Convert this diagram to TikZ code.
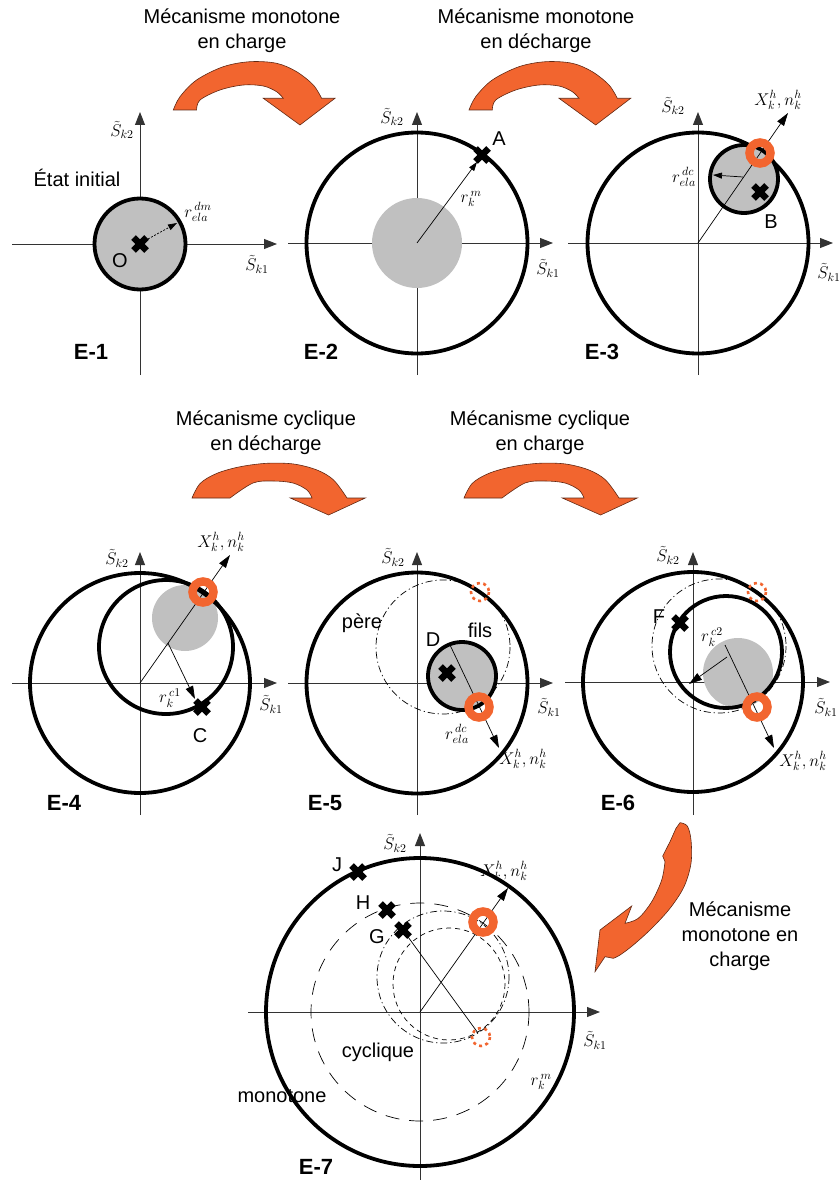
\RequirePackage{fix-cm}
\documentclass[tikz,border=0pt]{standalone}
\usepackage{fontspec}
\setsansfont{Liberation Sans}
\usetikzlibrary{arrows.meta}
\definecolor{org}{HTML}{F2652F}
\definecolor{gfill}{HTML}{C0C0C0}
\definecolor{axc}{HTML}{333333}
\tikzset{
 bentarrow/.pic={
  \filldraw[fill=org,draw=black!60!org,line width=0.6pt]
   plot[smooth,tension=0.55] coordinates {(0,0) (6.7,-13.3) (23.3,-30) (50,-43.3) (76.7,-48.3) (103.3,-46.7) (123.3,-38.3) (140,-25) (148.3,-11.7)}
   -- (161.7,-11.7) -- (126.7,15) -- (90,-11.7) -- (110,-11.7)
   -- plot[smooth,tension=0.55] coordinates {(110,-11.7) (103.3,-18.3) (90,-24) (70,-25) (46.7,-20) (26.7,-10) (23.3,0)} -- cycle;
 },
 flatarrow/.pic={
  \filldraw[fill=org,draw=black!60!org,line width=0.6pt]
   plot[smooth,tension=0.55] coordinates {(0,0) (8.3,-14.7) (25,-24.7) (48.3,-31.3) (75,-34.7) (101.6,-34) (125,-28) (141.6,-18) (155,0)}
   -- (173.3,0) -- (136.6,17) -- (98.3,0) -- (120,0)
   -- plot[smooth,tension=0.55] coordinates {(120,0) (115,-8) (101,-15) (81,-17) (61,-15) (38,0)} -- cycle;
 },
 xmark/.pic={\draw[line width=6.5pt] (-6.5,-6.5)--(6.5,6.5) (-6.5,6.5)--(6.5,-6.5);}
}
\begin{document}
\begin{tikzpicture}[x=1pt,y=-1pt,
 ax/.style={draw=axc,line width=0.9pt,-{Triangle[length=13pt,width=10pt]}},
 axl/.style={draw=axc,line width=0.9pt},
 thk/.style={line width=3.8pt},
 rad/.style={line width=0.7pt,-{Triangle[length=9pt,width=6pt]}},
 radb/.style={line width=0.7pt,-{Triangle[length=13pt,width=8pt]}},
 ring/.style={draw=org,line width=8.5pt},
 dring/.style={draw=org,line width=2.6pt,dash pattern=on 3pt off 3.5pt},
 dd/.style={line width=0.7pt,dash pattern=on 7pt off 3pt on 1.2pt off 3pt},
 sf/.style={font=\sffamily\fontsize{20}{25}\selectfont,align=center,inner sep=0pt},
 elab/.style={font=\sffamily\bfseries\fontsize{22}{26}\selectfont,inner sep=0pt},
 ml/.style={font=\fontsize{17}{20}\selectfont,inner sep=0pt},
 gfl/.style={fill=gfill}
]
\useasboundingbox (0,0) rectangle (839,1180);

% ---------- headings and big arrows, row 1
\node[sf] (t1) at (242,30.5) {Mécanisme monotone\\en charge};
\node[sf] (t2) at (536,30.5) {Mécanisme monotone\\en décharge};
\pic at (173.3,110) {bentarrow};
\pic at (469,110) {bentarrow};

% ---------- E-1
\coordinate (o1) at (140,244);
\draw[axl] (140,375) -- (o1);
\draw[ax] (o1) -- (140,112);
\draw[ax] (12,244) -- (277,244);
\draw[gfl,thk] (o1) circle (45.5);
\pic at (o1) {xmark};
\coordinate (e1) at (177,223);
\draw[rad,dash pattern=on 2pt off 1.5pt] (148,239) -- (e1);
\node[ml] (s12) at (122,130) {$\tilde S_{k2}$};
\node[ml] (s11) at (257,264) {$\tilde S_{k1}$};
\node[ml] (r1) at (198,212) {$r^{\,dm}_{ela}$};
\node[sf] (O) at (120,261) {O};
\node[sf] (init) at (77,178) {État initial};
\node[elab] (E1) at (91,352) {E-1};

% ---------- E-2
\coordinate (o2) at (417,243);
\draw[axl] (417,375) -- (o2);
\draw[ax] (o2) -- (417,112);
\draw[ax] (288,243) -- (553,243);
\fill[gfill] (o2) circle (45);
\draw[thk] (o2) circle (110.5);
\coordinate (A) at (482,155);
\draw[rad] (o2) -- (477,162);
\pic at (A) {xmark};
\node[sf] (Al) at (499,139) {A};
\node[ml] (r2) at (471,199) {$r^{\,m}_{k}$};
\node[ml] (s22) at (392,117) {$\tilde S_{k2}$};
\node[ml] (s21) at (548,268) {$\tilde S_{k1}$};
\node[elab] (E2) at (321,352) {E-2};

% ---------- E-3
\coordinate (o3) at (698,243);
\draw[axl] (698,375) -- (o3);
\draw[ax] (o3) -- (698,112);
\draw[ax] (568,243) -- (833,243);
\draw[thk] (o3) circle (110.5);
\coordinate (c3) at (744,179);
\draw[gfl,thk] (c3) circle (34);
\coordinate (x3) at (788,113);
\draw[radb] (o3) -- (x3);
\coordinate (B) at (760,192);
\pic at (B) {xmark};
\draw[rad] (743,177) -- (713,175);
\draw[ring] (760,153) circle (10.5);
\node[sf] (Bl) at (771,222) {B};
\node[ml] (r3) at (684,177) {$r^{\,dc}_{ela}$};
\node[ml] (X3) at (778,100) {$X^{h}_{k}, n^{h}_{k}$};
\node[ml] (s32) at (673,106) {$\tilde S_{k2}$};
\node[ml] (s31) at (829,272) {$\tilde S_{k1}$};
\node[elab] (E3) at (602,352) {E-3};

% ---------- headings and big arrows, row 2
\node[sf] (t3) at (266,432.5) {Mécanisme cyclique\\en décharge};
\node[sf] (t4) at (540,432.5) {Mécanisme cyclique\\en charge};
\pic at (192,498) {flatarrow};
\pic at (464,498) {flatarrow};

% ---------- E-4
\coordinate (o4) at (140,683);
\draw[axl] (140,815) -- (o4);
\draw[ax] (o4) -- (140,552);
\draw[ax] (12,683) -- (277,683);
\fill[gfill] (185,618) circle (33);
\draw[thk] (o4) circle (110);
\draw[thk] (166,647) circle (67);
\coordinate (x4) at (230,555);
\draw[radb] (o4) -- (x4);
\coordinate (C) at (202,707);
\draw[radb] (168,643) -- (195,699);
\pic at (C) {xmark};
\draw[ring] (203,592) circle (10.5);
\node[sf] (Cl) at (200,736) {C};
\node[ml] (r4) at (170,698) {$r^{\,c1}_{k}$};
\node[ml] (X4) at (221,542) {$X^{h}_{k}, n^{h}_{k}$};
\node[ml] (s42) at (117,558) {$\tilde S_{k2}$};
\node[ml] (s41) at (271,704) {$\tilde S_{k1}$};
\node[elab] (E4) at (64,803) {E-4};

% ---------- E-5
\coordinate (o5) at (417,683);
\draw[axl] (417,815) -- (o5);
\draw[ax] (o5) -- (417,552);
\draw[ax] (288,683) -- (553,683);
\draw[thk] (o5) circle (110.5);
\draw[dd] (443,647) circle (67);
\draw[gfl,thk] (462,676) circle (34);
\coordinate (D) at (447,673);
\pic at (D) {xmark};
\coordinate (x5) at (499,748);
\draw[radb] (450,645) -- (x5);
\draw[ring] (479,707) circle (10.5);
\draw[dring] (480,592) circle (9);
\node[sf] (Dl) at (433,640) {D};
\node[sf] (fils) at (480,630) {fils};
\node[sf] (pere) at (362,623) {père};
\node[ml] (r5) at (457,734) {$r^{\,dc}_{ela}$};
\node[ml] (X5) at (523,759) {$X^{h}_{k}, n^{h}_{k}$};
\node[ml] (s52) at (393,557) {$\tilde S_{k2}$};
\node[ml] (s51) at (549,707) {$\tilde S_{k1}$};
\node[elab] (E5) at (325,803) {E-5};

% ---------- E-6
\coordinate (o6) at (693,682);
\draw[axl] (693,815) -- (o6);
\draw[ax] (o6) -- (693,552);
\draw[ax] (565,682) -- (830,682);
\fill[gfill] (738,673) circle (35);
\draw[thk] (o6) circle (110);
\draw[dd] (719,646) circle (67);
\draw[thk] (726,652) circle (56);
\coordinate (F) at (680,623);
\pic at (F) {xmark};
\coordinate (x6) at (774,748);
\draw[radb] (725,645) -- (x6);
\draw[radb] (727,657) -- (689,684);
\draw[ring] (757,707) circle (10.5);
\draw[dring] (757,592) circle (9);
\node[sf] (Fl) at (659,617) {F};
\node[ml] (r6) at (712,637) {$r^{\,c2}_{k}$};
\node[ml] (X6) at (803,761) {$X^{h}_{k}, n^{h}_{k}$};
\node[ml] (s62) at (668,555) {$\tilde S_{k2}$};
\node[ml] (s61) at (826,707) {$\tilde S_{k1}$};
\node[elab] (E6) at (618,803) {E-6};

% ---------- arrow E-6 -> E-7
\filldraw[fill=org,draw=black!60!org,line width=0.6pt]
 plot[smooth,tension=0.55] coordinates {(680,822.7) (687.3,826) (691,840) (691,863.3) (684,886.7) (670,908.3) (651.7,928.3) (633.3,945) (620,955) (613.3,958.3)}
 -- (605,956.7) -- (595,971.7) -- (600,930) -- (631.7,906) -- (625,923.3)
 -- plot[smooth,tension=0.55] coordinates {(625,923.3) (638.3,918.3) (651.7,901.7) (661.7,880) (665,861.7)}
 -- (662.7,856) -- (670,841.7) -- (676,828.3) -- cycle;
\node[sf] (t5) at (740,936) {Mécanisme\\monotone en\\charge};

% ---------- E-7
\coordinate (o7) at (420,1012);
\node[sf] (cyc) at (378,1052) {cyclique};
\node[sf] (mono) at (282,1096) {monotone};
\draw[axl] (420,1180) -- (o7);
\draw[ax] (o7) -- (420,833);
\draw[ax] (248,1012) -- (600,1012);
\draw[thk] (o7) circle (154);
\draw[line width=0.7pt,dash pattern=on 14pt off 10pt] (o7) circle (109);
\draw[dd] (443,977) circle (66);
\draw[line width=0.7pt,dash pattern=on 5pt off 4pt] (449,984) circle (56);
\coordinate (x7) at (508,888);
\draw[radb] (o7) -- (x7);
\coordinate (J) at (358,872);
\coordinate (H) at (387,910);
\coordinate (G) at (403,930);
\coordinate (g7) at (478,1033);
\draw[line width=0.7pt] (G) -- (g7);
\pic at (J) {xmark};
\pic at (H) {xmark};
\pic at (G) {xmark};
\draw[ring] (483,922) circle (10.5);
\draw[dring] (481,1037) circle (9);
\node[sf] (Jl) at (337,865) {J};
\node[sf] (Hl) at (363,903) {H};
\node[sf] (Gl) at (377,937) {G};
\node[ml] (X7) at (504,871) {$X^{h}_{k}, n^{h}_{k}$};
\node[ml] (r7) at (541,1082) {$r^{\,m}_{k}$};
\node[ml] (s72) at (395,843) {$\tilde S_{k2}$};
\node[ml] (s71) at (595,1040) {$\tilde S_{k1}$};
\node[elab] (E7) at (316,1167) {E-7};
\end{tikzpicture}
\end{document}
